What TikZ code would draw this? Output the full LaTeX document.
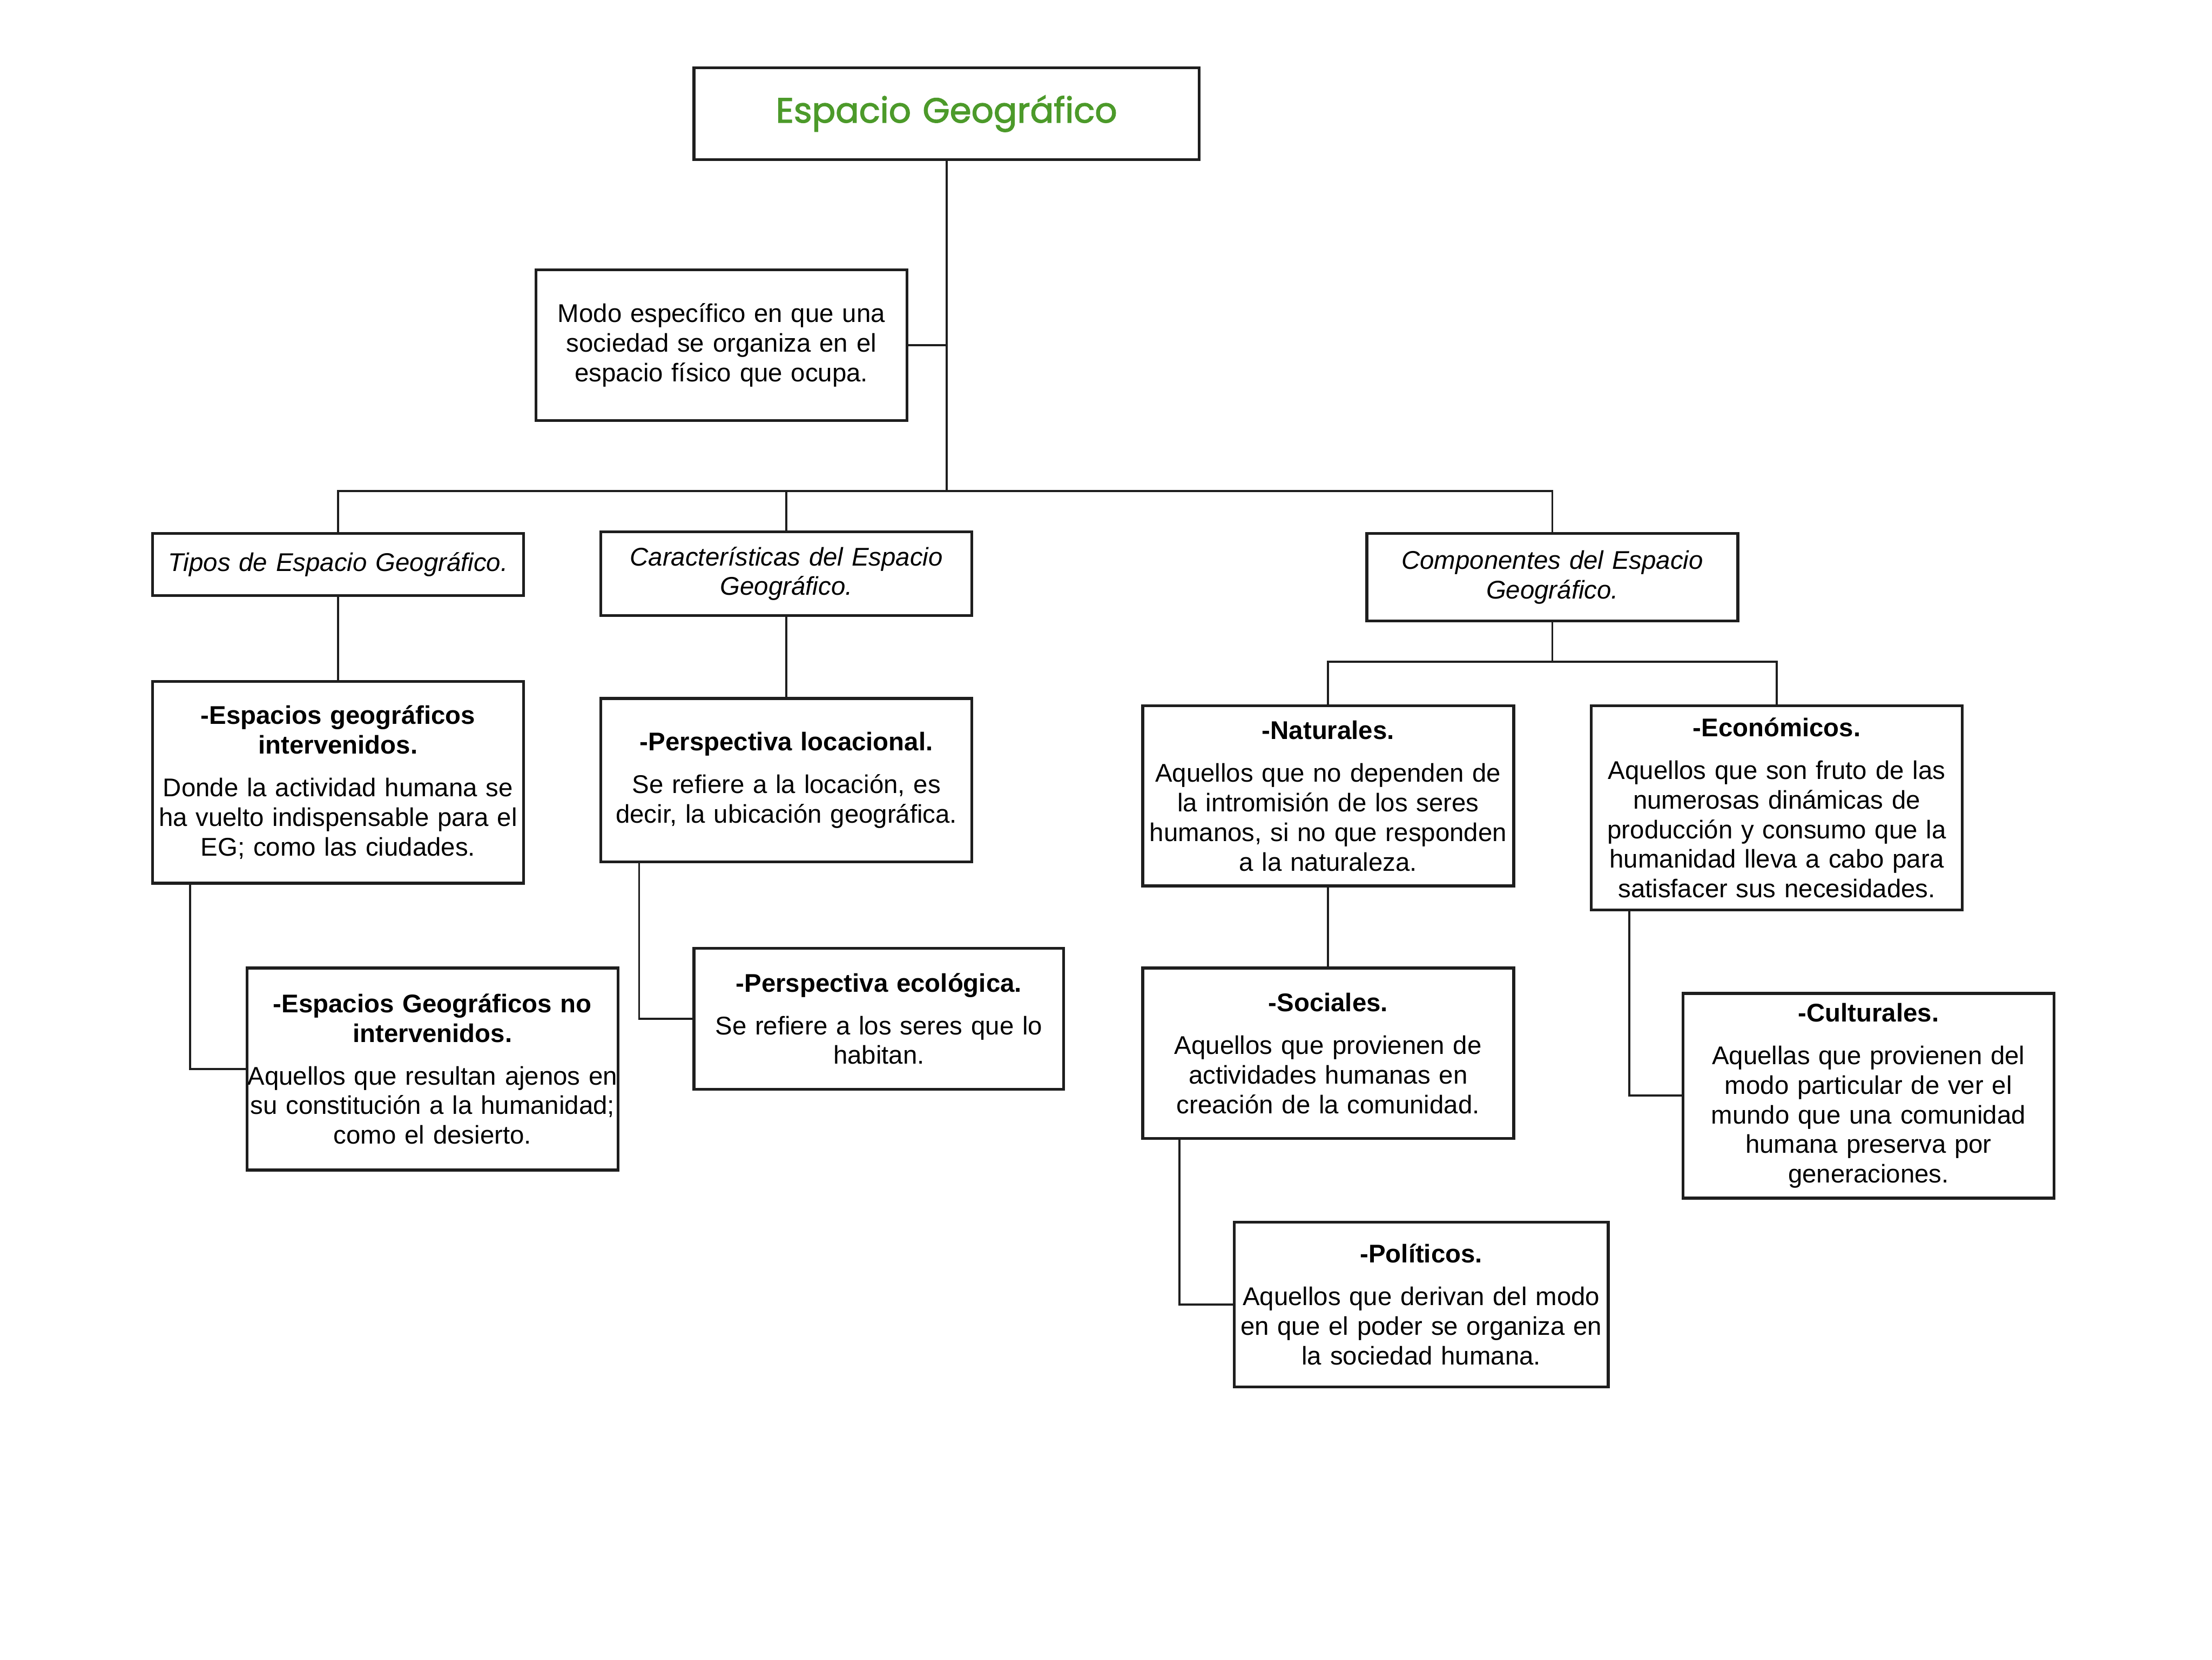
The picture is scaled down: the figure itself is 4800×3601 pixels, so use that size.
\documentclass[tikz,border=0pt]{standalone}
\usepackage{fontspec}
\setmainfont{Liberation Sans}
\newfontfamily\titlefont{Poppins}[FakeBold=2]
\definecolor{titlegreen}{HTML}{4C9A2A}
\definecolor{ink}{HTML}{1E1E1E}
\begin{document}
\begin{tikzpicture}[x=0.1mm,y=-0.1mm,
  box/.style={draw=ink,line width=1.8pt,rectangle,inner sep=0pt,align=center,
    text width=80mm,minimum width=80.5mm,
    font=\fontsize{15.8}{18.3}\selectfont},
  link/.style={draw=ink,line width=1.3pt}]
\fill[white] (0,0) rectangle (4800,3601);
\useasboundingbox (0,0) rectangle (4800,3601);

\newcommand{\hd}[1]{\textbf{#1}\\[8pt]}

\node[box,text width=109mm,minimum width=109.6mm,minimum height=19.9mm,
  font=\titlefont\fontsize{21.5}{26}\selectfont,text=titlegreen] (title) at (2054,246.5) {Espacio Geográfico};

\node[box,minimum height=32.7mm] (modo) at (1565.5,748.5)
  {Modo específico en que una\\ sociedad se organiza en el\\ espacio físico que ocupa.};

\node[box,minimum height=13.5mm] (tipos) at (733.5,1224.5)
  {\itshape Tipos de Espacio Geográfico.};
\node[box,minimum height=18.1mm] (carac) at (1706.5,1244.5)
  {\itshape Características del Espacio\\ Geográfico.};
\node[box,minimum height=19mm] (comp) at (3368.5,1252)
  {\itshape Componentes del Espacio\\ Geográfico.};

\node[box,minimum height=43.8mm] (interv) at (733.5,1697)
  {\hd{-Espacios geográficos\\ intervenidos.}Donde la actividad humana se\\ ha vuelto indispensable para el\\ EG; como las ciudades.};
\node[box,minimum height=43.8mm] (nointerv) at (938.5,2319)
  {\hd{-Espacios Geográficos no\\ intervenidos.}\makebox[80mm][c]{Aquellos que resultan ajenos en}\\ su constitución a la humanidad;\\ como el desierto.};

\node[box,minimum height=35.5mm] (loc) at (1706.5,1692.5)
  {\hd{-Perspectiva locacional.}Se refiere a la locación, es\\ decir, la ubicación geográfica.};
\node[box,minimum width=80.2mm,minimum height=30.6mm] (eco) at (1907,2210)
  {\hd{-Perspectiva ecológica.}Se refiere a los seres que lo\\ habitan.};

\node[box,minimum height=39.1mm] (nat) at (2882,1726.5)
  {\hd{-Naturales.}Aquellos que no dependen de\\ la intromisión de los seres\\ humanos, si no que responden\\ a la naturaleza.};
\node[box,minimum height=44.3mm] (econ) at (3855.5,1752.5)
  {\hd{-Económicos.}Aquellos que son fruto de las\\ numerosas dinámicas de\\ producción y consumo que la\\ humanidad lleva a cabo para\\ satisfacer sus necesidades.};
\node[box,minimum height=37mm] (soc) at (2882,2285)
  {\hd{-Sociales.}Aquellos que provienen de\\ actividades humanas en\\ creación de la comunidad.};
\node[box,minimum width=81.2mm,minimum height=35.8mm] (pol) at (3084,2830)
  {\hd{-Políticos.}Aquellos que derivan del modo\\ en que el poder se organiza en\\ la sociedad humana.};
\node[box,minimum height=44.4mm] (cult) at (4054.5,2377)
  {\hd{-Culturales.}Aquellas que provienen del\\ modo particular de ver el\\ mundo que una comunidad\\ humana preserva por\\ generaciones.};

\coordinate (bus) at (2054,1065);
\coordinate (bus2) at (3368.5,1436);

\draw[link] (title.south) -- (bus);
\draw[link] (modo.east) -- (modo.east -| bus);
\draw[link] (tipos.north) |- (bus) -| (comp.north);
\draw[link] (carac.north) -- (carac.north |- bus);
\draw[link] (tipos.south) -- (interv.north);
\draw[link] ([xshift=8.5mm]interv.south west) |- (nointerv.west);
\draw[link] (carac.south) -- (loc.north);
\draw[link] ([xshift=8.6mm]loc.south west) |- (eco.west);
\draw[link] (comp.south) -- (bus2);
\draw[link] (nat.north) |- (bus2) -| (econ.north);
\draw[link] (nat.south) -- (soc.north);
\draw[link] ([xshift=8.3mm]soc.south west) |- (pol.west);
\draw[link] ([xshift=8.6mm]econ.south west) |- (cult.west);
\end{tikzpicture}
\end{document}
